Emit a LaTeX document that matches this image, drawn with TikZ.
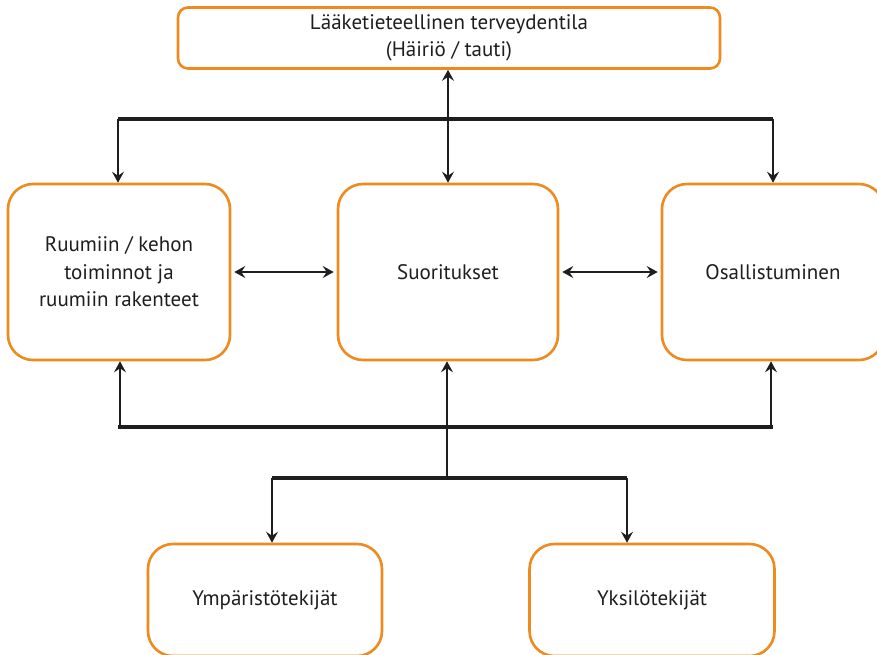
\documentclass[tikz,border=0pt]{standalone}
\usepackage{fontspec}
\setmainfont{PT Sans}
\usetikzlibrary{arrows.meta}
\definecolor{boxorange}{HTML}{EE8A1E}
\definecolor{txt}{HTML}{1E1E1E}
\begin{document}
\begin{tikzpicture}[x=1pt,y=-1pt,
  box/.style={draw=boxorange, line width=2.6pt, rounded corners=25pt, align=center,
    font=\fontsize{21}{27.5}\selectfont, text=txt, inner sep=0pt},
  bus/.style={line width=3.5pt, line cap=butt, draw=txt},
  arr/.style={line width=1.7pt, draw=txt, -{Stealth[length=11pt,width=12pt,inset=4pt]}},
  darr/.style={line width=1.7pt, draw=txt, {Stealth[length=11pt,width=12pt,inset=4pt]}-{Stealth[length=11pt,width=12pt,inset=4pt]}}]
\useasboundingbox (0,0) rectangle (877,654);
\clip (0,0) rectangle (877,654);
\node[box, rounded corners=10pt, minimum width=542pt, minimum height=61pt] (top) at (449,38)
  {Lääketieteellinen terveydentila\\(Häiriö / tauti)};
\node[box, minimum width=222pt, minimum height=176pt] (left) at (119,272)
  {Ruumiin / kehon\\toiminnot ja\\ruumiin rakenteet};
\node[box, minimum width=220pt, minimum height=176pt] (mid) at (448,272) {Suoritukset};
\node[box, minimum width=222pt, minimum height=176pt] (right) at (773,272) {Osallistuminen};
\node[box, minimum width=234pt, minimum height=112pt] (yl) at (265,600) {Ympäristötekijät};
\node[box, minimum width=245pt, minimum height=112pt] (yr) at (652,600) {Yksilötekijät};
% upper bus
\coordinate (tl) at (118,119);
\coordinate (tr) at (773,119);
\draw[bus] (tl) -- (tr);
\draw[darr] (mid.north |- top.south) -- (mid.north);
\draw[arr] (tl) -- (tl |- left.north);
\draw[arr] (tr) -- (tr |- right.north);
% horizontal links
\draw[darr] ([xshift=3pt]left.east) -- ([xshift=-3pt]mid.west);
\draw[darr] ([xshift=3pt]mid.east) -- ([xshift=-3pt]right.west);
% lower bus
\coordinate (bl) at (118,427);
\coordinate (br) at (773,427);
\draw[bus] (bl) -- (br);
\draw[arr] ([xshift=2pt]bl) -- ([xshift=2pt]bl |- left.south);
\draw[arr] ([xshift=-2pt]br) -- ([xshift=-2pt]br |- right.south);
\coordinate (jm) at (447,478);
\draw[arr] (jm) -- (jm |- mid.south);
% bottom bus
\coordinate (ll) at (272,478);
\coordinate (lr) at (627,478);
\draw[bus] (ll) -- (lr);
\draw[arr] (ll) -- (ll |- yl.north);
\draw[arr] (lr) -- (lr |- yr.north);
\end{tikzpicture}
\end{document}
